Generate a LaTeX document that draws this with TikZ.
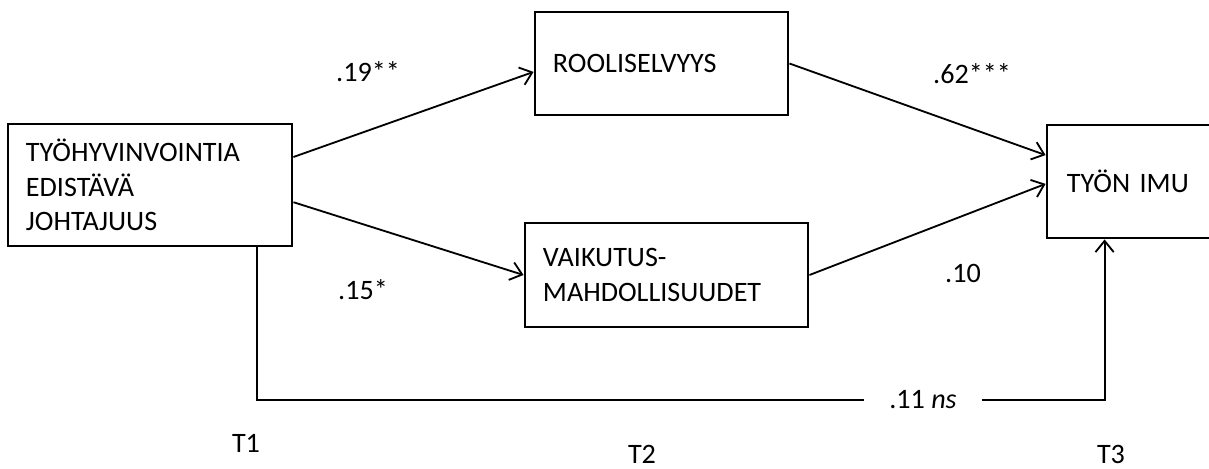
\documentclass[tikz,border=0pt]{standalone}
\usepackage{fontspec}
\setmainfont{Carlito}
\usetikzlibrary{arrows.meta, positioning}

\begin{document}
\begin{tikzpicture}[
        x=0.025cm, y=-0.025cm,
        box/.style={rectangle, draw, line width=2pt, align=left, inner xsep=0.45cm,
            font=\fontsize{20}{24.5}\selectfont},
        lbl/.style={inner sep=0pt, font=\fontsize{20}{24.5}\selectfont},
        arrow/.style={line width=1.3pt, -{Straight Barb[length=8pt, width=13pt]}}
    ]
        \useasboundingbox (0,0) rectangle (1209,468);
        \clip (0,0) rectangle (1209,468);

        \node[box, text width=6.2cm, minimum height=3.05cm] (johto) at (150,185) {TYÖHYVINVOINTIA\\EDISTÄVÄ\\JOHTAJUUS};
        \node[box, text width=5.425cm, minimum height=2.575cm] (rooli) at (661.5,63.5) {ROOLISELVYYS};
        \node[box, text width=6.175cm, minimum height=2.6cm] (vaik) at (666.5,275) {VAIKUTUS-\\MAHDOLLISUUDET};
        \node[box, text width=3.825cm, inner xsep=0.5cm, minimum height=2.825cm] (imu) at (1143.5,181.5) {TYÖN IMU};

        % kertoimet
        \node[lbl] (l19) at (368,72) {.19**};
        \node[lbl] (l15) at (363,290) {.15*};
        \node[lbl] (l62) at (972,74) {.62***};
        \node[lbl] (l10) at (963,273) {.10};
        \node[lbl, minimum width=2.93cm] (l11) at (923,400) {.11 \textit{ns}};

        % mittauskerrat
        \node[lbl] (t1) at (246,443) {T1};
        \node[lbl] (t2) at (642,454) {T2};
        \node[lbl] (t3) at (1111,454) {T3};

        \draw[arrow] ([yshift=0.7cm]johto.east) -- ([yshift=-0.21cm]rooli.west);
        \draw[arrow] ([yshift=-0.43cm]johto.east) -- (vaik.west);
        \draw[arrow] (rooli.east) -- ([yshift=0.66cm]imu.west);
        \draw[arrow] (vaik.east) -- ([yshift=-0.06cm]imu.west);
        \draw[line width=1.3pt] ([xshift=2.675cm]johto.south) |- (l11.west);
        \draw[arrow] (l11.east) -| ([xshift=1.475cm]imu.south west);
    \end{tikzpicture}
\end{document}
